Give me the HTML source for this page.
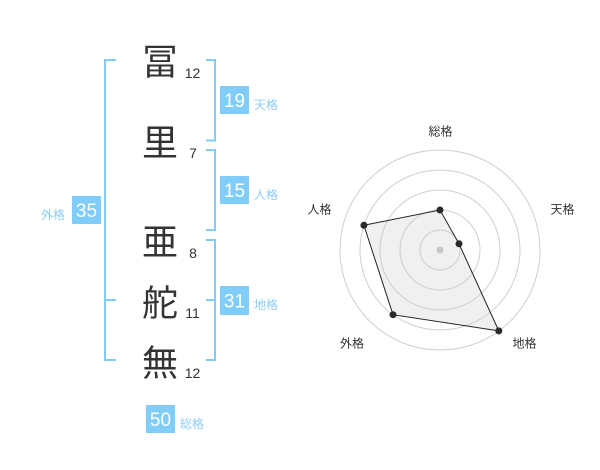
<!DOCTYPE html>
<html>
<head>
<meta charset="utf-8">
<style>
html,body{margin:0;padding:0;background:#fff;}
svg{display:block;}
.k{font-family:"Liberation Sans","Noto Sans CJK JP",sans-serif;font-size:36px;fill:#333;}
.n{font-family:"Liberation Sans",sans-serif;font-size:14px;fill:#333;}
.bn{font-family:"Liberation Sans",sans-serif;font-size:19px;fill:#fff;}
.bl{font-family:"Liberation Sans","Noto Sans CJK JP",sans-serif;font-size:12px;fill:#8ccdf5;}
.rl{font-family:"Liberation Sans","Noto Sans CJK JP",sans-serif;font-size:12px;fill:#333;}
</style>
</head>
<body>
<svg width="600" height="470" viewBox="0 0 600 470" xmlns="http://www.w3.org/2000/svg">
  <!-- brackets -->
  <g stroke="#81cdf9" stroke-width="2" fill="none">
    <!-- left outer bracket -->
    <polyline points="116,60 105,60 105,360 116,360"/>
    <line x1="105" y1="300" x2="116" y2="300"/>
    <!-- right bracket 1 -->
    <polyline points="206,60 215,60 215,140.5 206,140.5"/>
    <!-- right bracket 2 -->
    <polyline points="206,150 215,150 215,230 206,230"/>
    <!-- right bracket 3 -->
    <polyline points="206,240 215,240 215,360 206,360"/>
    <line x1="206" y1="300" x2="215" y2="300"/>
  </g>

  <!-- kanji -->
  <text class="k" x="160" y="74.5" text-anchor="middle">冨</text>
  <text class="k" x="160" y="155.5" text-anchor="middle">里</text>
  <text class="k" x="160" y="254.5" text-anchor="middle">亜</text>
  <text class="k" x="160" y="315.5" text-anchor="middle">舵</text>
  <text class="k" x="160" y="375.5" text-anchor="middle">無</text>

  <!-- stroke counts -->
  <text class="n" x="192.5" y="78" text-anchor="middle">12</text>
  <text class="n" x="193" y="158" text-anchor="middle">7</text>
  <text class="n" x="193" y="258" text-anchor="middle">8</text>
  <text class="n" x="192.5" y="318" text-anchor="middle">11</text>
  <text class="n" x="192.5" y="378" text-anchor="middle">12</text>

  <!-- boxes -->
  <g fill="#81cdf9">
    <rect x="220" y="86" width="29" height="28"/>
    <rect x="220" y="176" width="29" height="28"/>
    <rect x="220" y="286" width="29" height="29"/>
    <rect x="72" y="196" width="29" height="28"/>
    <rect x="146" y="405" width="29" height="28"/>
  </g>
  <text class="bn" x="234.5" y="106.8" text-anchor="middle">19</text>
  <text class="bn" x="234.5" y="196.8" text-anchor="middle">15</text>
  <text class="bn" x="234.5" y="307.3" text-anchor="middle">31</text>
  <text class="bn" x="86.5" y="216.8" text-anchor="middle">35</text>
  <text class="bn" x="160.5" y="425.8" text-anchor="middle">50</text>

  <text class="bl" x="254" y="109">天格</text>
  <text class="bl" x="254" y="199">人格</text>
  <text class="bl" x="254" y="309">地格</text>
  <text class="bl" x="41" y="219">外格</text>
  <text class="bl" x="180" y="428">総格</text>

  <!-- radar -->
  <g fill="none" stroke="#cfcfcf" stroke-width="1">
    <circle cx="440" cy="250" r="20"/>
    <circle cx="440" cy="250" r="40"/>
    <circle cx="440" cy="250" r="60"/>
    <circle cx="440" cy="250" r="80"/>
    <circle cx="440" cy="250" r="100"/>
  </g>
  <polygon points="440,210 459,243.8 498.8,330.9 393,314.7 363.9,225.3" fill="rgba(200,200,200,0.28)" stroke="#222" stroke-width="1"/>
  <circle cx="440" cy="250" r="3.5" fill="#c8c8c8"/>
  <g fill="#2a2a2a">
    <circle cx="440" cy="210" r="3.5"/>
    <circle cx="459" cy="243.8" r="3.5"/>
    <circle cx="498.8" cy="330.9" r="3.5"/>
    <circle cx="393" cy="314.7" r="3.5"/>
    <circle cx="363.9" cy="225.3" r="3.5"/>
  </g>
  <text class="rl" x="440.5" y="135.5" text-anchor="middle">総格</text>
  <text class="rl" x="562.5" y="213.5" text-anchor="middle">天格</text>
  <text class="rl" x="319.5" y="213.5" text-anchor="middle">人格</text>
  <text class="rl" x="352" y="347.5" text-anchor="middle">外格</text>
  <text class="rl" x="524.5" y="347.5" text-anchor="middle">地格</text>
</svg>
</body>
</html>
